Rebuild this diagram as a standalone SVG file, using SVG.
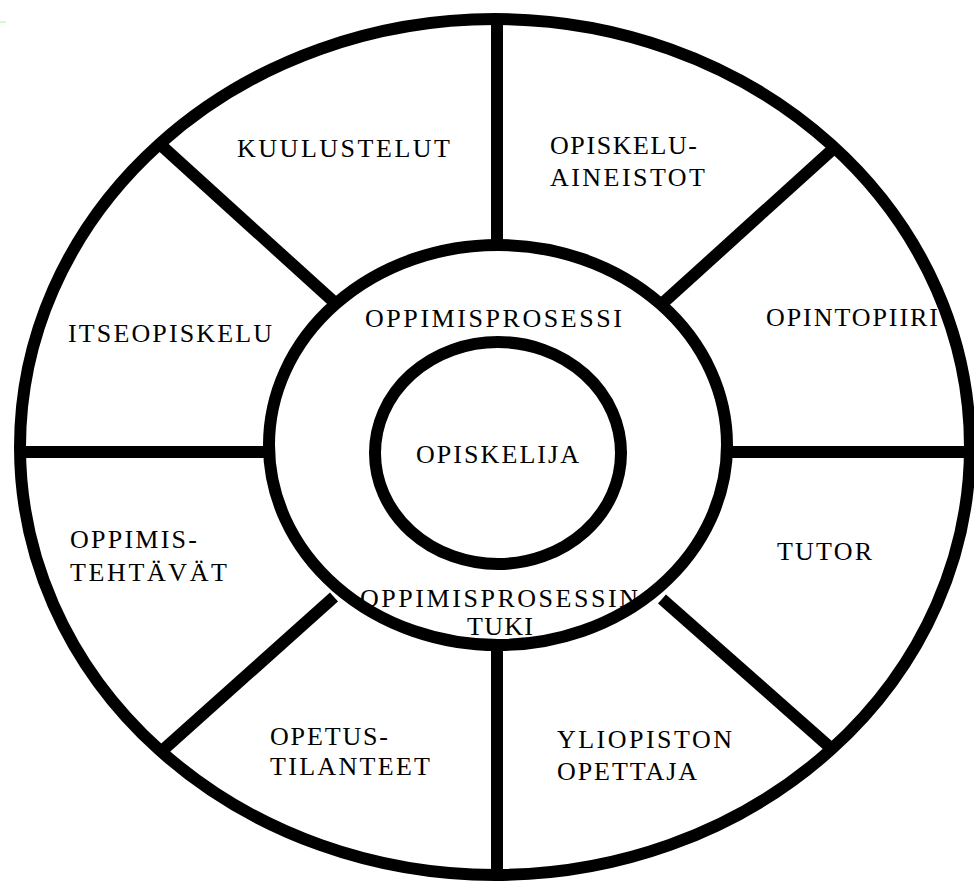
<svg xmlns="http://www.w3.org/2000/svg" width="974" height="886" viewBox="0 0 974 886">
<style>
.ring{fill:none;stroke:#000;stroke-width:12}
.spoke{stroke:#000;stroke-width:12;stroke-linecap:butt}
text{font-family:"Liberation Serif","Times New Roman",serif;font-size:26px;fill:#000}
</style>
<rect x="0" y="0" width="974" height="886" fill="#fff"/>
<rect x="0" y="21" width="6" height="2" fill="#ccffcc"/>
<g id="outer-ring"><ellipse class="ring" cx="495" cy="447" rx="475" ry="428"/></g>
<g id="connectors">
<line class="spoke" x1="497" y1="19" x2="497" y2="246"/>
<line class="spoke" x1="497" y1="644" x2="497" y2="876"/>
<line class="spoke" x1="19" y1="452" x2="270" y2="452"/>
<line class="spoke" x1="727" y1="452" x2="972" y2="452"/>
<line class="spoke" x1="163" y1="147" x2="334" y2="302"/>
<line class="spoke" x1="833" y1="149" x2="664" y2="302"/>
<line class="spoke" x1="163" y1="750" x2="334" y2="597"/>
<line class="spoke" x1="833" y1="750" x2="662" y2="599"/>
</g>
<g id="process-ring"><ellipse class="ring" cx="498" cy="445" rx="229" ry="200"/>
<text x="365" y="327" textLength="257" lengthAdjust="spacing">OPPIMISPROSESSI</text>
<text x="360" y="607" textLength="278" lengthAdjust="spacing">OPPIMISPROSESSIN</text>
<text x="467" y="635" textLength="66" lengthAdjust="spacing">TUKI</text>
</g>
<g id="opiskelija"><ellipse class="ring" cx="498" cy="453" rx="123" ry="111"/>
<text x="416" y="463" textLength="163" lengthAdjust="spacing">OPISKELIJA</text>
</g>
<g id="kuulustelut"><text x="237" y="157" textLength="213" lengthAdjust="spacing">KUULUSTELUT</text></g>
<g id="opiskeluaineistot">
<text x="550" y="154" textLength="147" lengthAdjust="spacing">OPISKELU-</text>
<text x="550" y="186" textLength="155" lengthAdjust="spacing">AINEISTOT</text>
</g>
<g id="opintopiiri"><text x="766" y="326" textLength="172" lengthAdjust="spacing">OPINTOPIIRI</text></g>
<g id="tutor"><text x="777" y="560" textLength="95" lengthAdjust="spacing">TUTOR</text></g>
<g id="yliopiston-opettaja">
<text x="557" y="748" textLength="175" lengthAdjust="spacing">YLIOPISTON</text>
<text x="557" y="780" textLength="140" lengthAdjust="spacing">OPETTAJA</text>
</g>
<g id="opetustilanteet">
<text x="270" y="745" textLength="118" lengthAdjust="spacing">OPETUS-</text>
<text x="270" y="775" textLength="160" lengthAdjust="spacing">TILANTEET</text>
</g>
<g id="oppimistehtavat">
<text x="70" y="548" textLength="127" lengthAdjust="spacing">OPPIMIS-</text>
<text x="70" y="581" textLength="157" lengthAdjust="spacing">TEHTÄVÄT</text>
</g>
<g id="itseopiskelu"><text x="68" y="342" textLength="204" lengthAdjust="spacing">ITSEOPISKELU</text></g>
</svg>
